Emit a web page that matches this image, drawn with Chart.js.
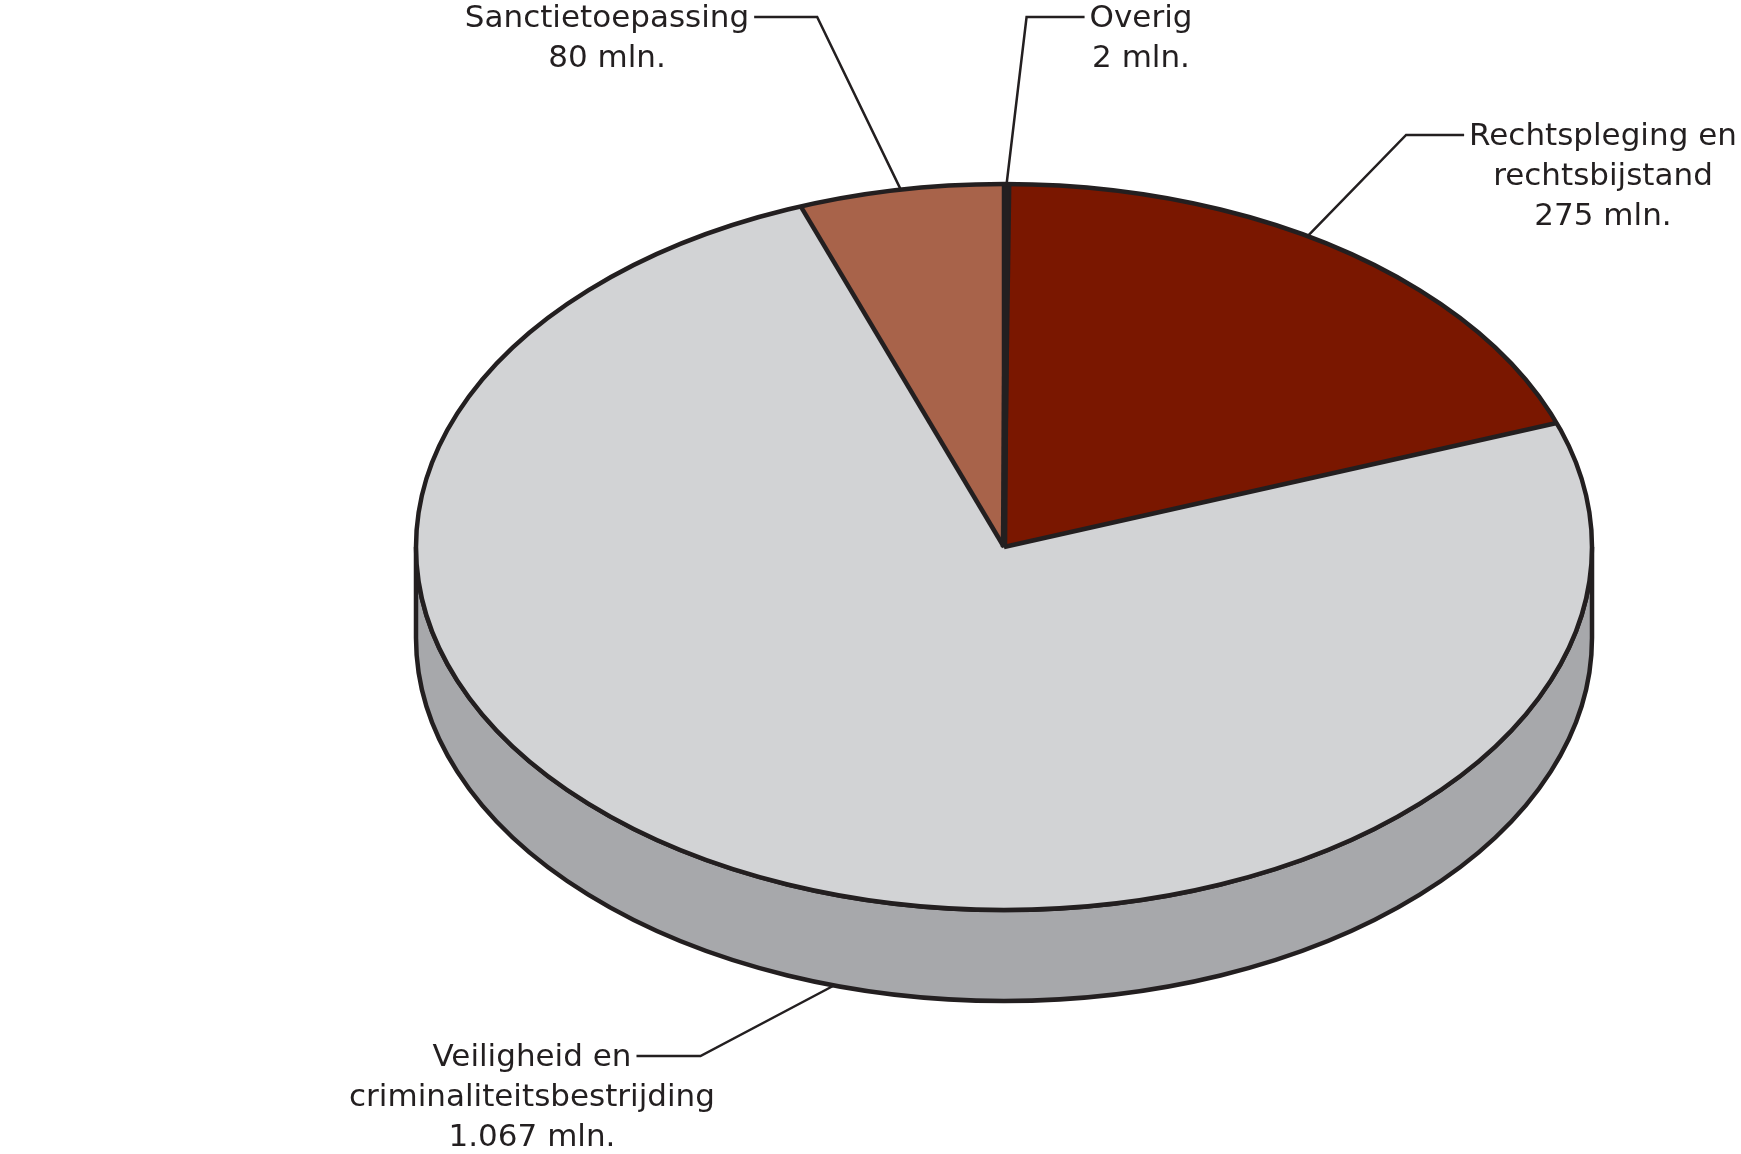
<!DOCTYPE html>
<html>
<head>
<meta charset="utf-8">
<script src="https://cdn.jsdelivr.net/npm/chart.js@4"></script>
<style>
  html, body { margin: 0; padding: 0; background: #fff; }
  canvas { display: block; }
</style>
</head>
<body>
<canvas id="chart" width="1741" height="1154"></canvas>
<script>
// data (mln. euro)
const categories = ['Overig', 'Rechtspleging en rechtsbijstand', 'Veiligheid en criminaliteitsbestrijding', 'Sanctietoepassing'];
const labelLines = [['Overig'], ['Rechtspleging en', 'rechtsbijstand'], ['Veiligheid en', 'criminaliteitsbestrijding'], ['Sanctietoepassing']];
const values = [2, 275, 1067, 80];
const unit = 'mln.';

const colors = ['#231f20', '#7a1700', '#d2d3d5', '#a8634a'];
const ink = '#231f20';
const wallColor = '#a7a8ab';

// ellipse the flat pie is projected onto
const E = { cx: 1004, cy: 547, rx: 588, ry: 363, depth: 91 };

// label placement: block centre x, first baseline, side the leader leaves from,
// elbow length, where on the slice the leader lands, top or bottom rim
const labelPos = [
  { x: 1141, y: 27,   side: 'left',  elbow: 58, frac: 0.5,  rim: 0 },
  { x: 1603, y: 145,  side: 'left',  elbow: 58, frac: 0.44, rim: 0 },
  { x: 532,  y: 1066, side: 'right', elbow: 64, frac: 0.47, rim: 1 },
  { x: 607,  y: 27,   side: 'right', elbow: 63, frac: 0.5,  rim: 0 }
];
const font = '31px "DejaVu Sans"';
const lineH = 40;
const edgeW = 4.5;

function fmt(v) {
  return String(v).replace(/\B(?=(\d{3})+(?!\d))/g, '.');
}

function rimPoint(a, drop) {
  return [E.cx + E.rx * Math.cos(a), E.cy + drop + E.ry * Math.sin(a)];
}

const tiltPlugin = {
  id: 'tilt',
  beforeDatasetsDraw(chart) {
    const ctx = chart.ctx;
    // side wall (front half of the disc)
    ctx.save();
    ctx.beginPath();
    ctx.moveTo(E.cx - E.rx, E.cy);
    ctx.lineTo(E.cx - E.rx, E.cy + E.depth);
    ctx.ellipse(E.cx, E.cy + E.depth, E.rx, E.ry, 0, Math.PI, 0, true);
    ctx.lineTo(E.cx + E.rx, E.cy);
    ctx.ellipse(E.cx, E.cy, E.rx, E.ry, 0, 0, Math.PI, false);
    ctx.closePath();
    ctx.fillStyle = wallColor;
    ctx.fill();
    ctx.lineWidth = edgeW;
    ctx.strokeStyle = ink;
    ctx.stroke();
    ctx.restore();

    // squash the round pie onto the ellipse
    const arc = chart.getDatasetMeta(0).data[0];
    const r = arc.outerRadius;
    ctx.save();
    ctx.translate(E.cx, E.cy);
    ctx.scale(E.rx / r, E.ry / r);
    ctx.translate(-arc.x, -arc.y);
  },
  afterDatasetsDraw(chart) {
    const ctx = chart.ctx;
    ctx.restore();
    const arcs = chart.getDatasetMeta(0).data;
    ctx.save();
    ctx.strokeStyle = ink;
    ctx.lineWidth = edgeW;
    ctx.lineJoin = 'round';
    arcs.forEach(a => {
      const p = rimPoint(a.startAngle, 0);
      ctx.beginPath();
      ctx.moveTo(E.cx, E.cy);
      ctx.lineTo(p[0], p[1]);
      ctx.stroke();
    });
    // very thin slices read as a solid bar
    ctx.lineWidth = edgeW + 2;
    arcs.forEach(a => {
      if (a.endAngle - a.startAngle > 0.02) return;
      const m = (a.startAngle + a.endAngle) / 2;
      const p = rimPoint(m, 0);
      ctx.beginPath();
      ctx.moveTo(E.cx, E.cy);
      ctx.lineTo(p[0], p[1]);
      ctx.stroke();
    });
    ctx.lineWidth = edgeW;
    ctx.beginPath();
    ctx.ellipse(E.cx, E.cy, E.rx, E.ry, 0, 0, Math.PI * 2);
    ctx.stroke();
    ctx.restore();
  },
  afterDraw(chart) {
    const ctx = chart.ctx;
    const arcs = chart.getDatasetMeta(0).data;
    ctx.save();
    ctx.font = font;
    ctx.fillStyle = ink;
    ctx.textAlign = 'center';
    ctx.textBaseline = 'alphabetic';
    labelLines.forEach((lines, i) => {
      const L = labelPos[i];
      const all = lines.concat([fmt(values[i]) + ' ' + unit]);
      all.forEach((t, j) => ctx.fillText(t, L.x, L.y + j * lineH));

      // leader
      const w = ctx.measureText(all[0]).width;
      const ly = L.y - 10;
      const sx = L.side === 'left' ? L.x - w / 2 - 5 : L.x + w / 2 + 5;
      const ex = L.side === 'left' ? sx - L.elbow : sx + L.elbow;
      const a = arcs[i].startAngle + L.frac * (arcs[i].endAngle - arcs[i].startAngle);
      const p = rimPoint(a, L.rim ? E.depth : 0);
      ctx.beginPath();
      ctx.moveTo(sx, ly);
      ctx.lineTo(ex, ly);
      ctx.lineTo(p[0], p[1]);
      ctx.strokeStyle = ink;
      ctx.lineWidth = 2.5;
      ctx.stroke();
    });
    ctx.restore();
  }
};

new Chart(document.getElementById('chart'), {
  type: 'pie',
  data: {
    labels: categories,
    datasets: [{
      data: values,
      backgroundColor: colors,
      borderColor: ink,
      borderWidth: 2
    }]
  },
  options: {
    responsive: false,
    devicePixelRatio: 1,
    animation: false,
    events: [],
    layout: { padding: 0 },
    plugins: {
      legend: { display: false },
      tooltip: { enabled: false }
    }
  },
  plugins: [tiltPlugin]
});
</script>
</body>
</html>
